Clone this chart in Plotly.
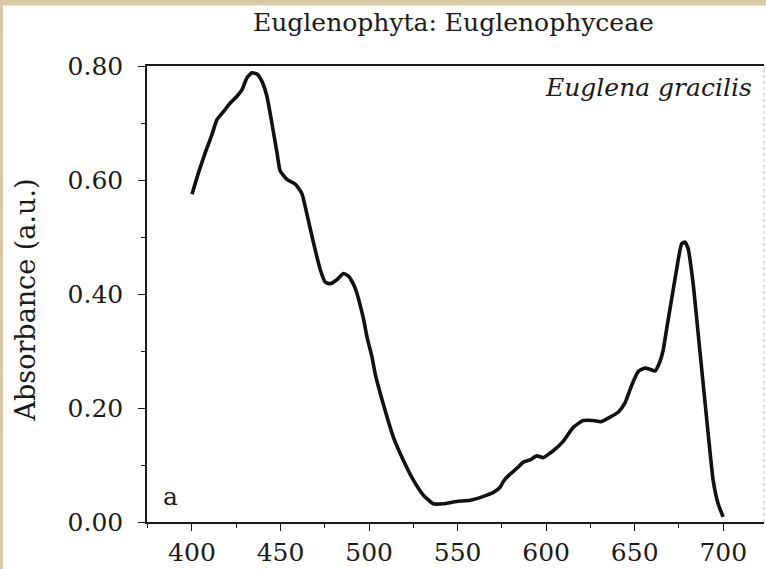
import plotly.graph_objects as go

wavelength = [400, 403.7, 407.5, 411.3, 414.1, 417.8, 421.6, 425.4, 428.2, 431, 433.9, 436.7,
              439.5, 442.3, 445.1, 448, 449.8, 453.6, 458.3, 462.1, 464.9, 468.6, 472.4, 475.2,
              478, 481.8, 485.6, 488.8, 492.2, 496.8, 499, 501.6, 503.6, 508.1, 513.8, 519.4,
              525.1, 530.7, 536.3, 542, 549.5, 557, 564.6, 570.2, 574, 576, 579.6, 583.4,
              587.1, 590.9, 594.7, 598.4, 602.2, 604, 609.7, 615.3, 620.9, 626.6, 631, 636.1,
              640.8, 644.5, 648.3, 652, 655.8, 658.5, 661.5, 664.3, 666.1, 668.1, 670.9, 673.7,
              676.5, 678.4, 680.2, 683.1, 685.9, 688.7, 691.5, 694.3, 697.1, 699.9]
absorbance = [0.575, 0.613, 0.648, 0.680, 0.706, 0.720, 0.735, 0.747, 0.758, 0.779, 0.788, 0.786,
              0.773, 0.747, 0.700, 0.648, 0.616, 0.601, 0.593, 0.576, 0.540, 0.490, 0.443, 0.421,
              0.418, 0.425, 0.436, 0.430, 0.410, 0.357, 0.322, 0.290, 0.258, 0.206, 0.148, 0.108,
              0.073, 0.047, 0.032, 0.032, 0.036, 0.038, 0.045, 0.052, 0.061, 0.072, 0.084, 0.094,
              0.105, 0.109, 0.116, 0.113, 0.121, 0.125, 0.142, 0.166, 0.178, 0.178, 0.176, 0.184,
              0.193, 0.209, 0.240, 0.264, 0.270, 0.268, 0.265, 0.282, 0.302, 0.340, 0.392, 0.444,
              0.488, 0.491, 0.479, 0.415, 0.328, 0.241, 0.154, 0.073, 0.032, 0.009]

x_ticks = [400, 450, 500, 550, 600, 650, 700]
y_ticks = [0.0, 0.2, 0.4, 0.6, 0.8]
y_tick_labels = ["0.00", "0.20", "0.40", "0.60", "0.80"]

title_text = "Euglenophyta: Euglenophyceae"
y_title = "Absorbance (a.u.)"
species = "Euglena gracilis"
panel = "a"

FONT = "DejaVu Serif"
INK = "#1a1a1a"

W, H = 766, 569
ML, MR, MT, MB = 147, 2, 66, 44
PW, PH = W - ML - MR, H - MT - MB
BOTTOM = H - MB  # pixel row of the x axis

def px(xp):
    return (xp - ML) / PW

def py(yp):
    return (BOTTOM - yp) / PH

fig = go.Figure()
fig.add_trace(go.Scatter(x=wavelength, y=absorbance, mode="lines",
                         line=dict(color="#111111", width=3.6, shape="spline", smoothing=0.5),
                         showlegend=False, hoverinfo="skip"))

fig.update_layout(
    width=W, height=H,
    margin=dict(l=ML, r=MR, t=MT, b=MB, pad=0),
    paper_bgcolor="#d8c8a7",
    plot_bgcolor="white",
    font=dict(family=FONT, color=INK),
    shapes=[
        dict(type="rect", xref="paper", yref="paper", x0=px(3), x1=px(770), y0=py(600), y1=py(5),
             fillcolor="white", line=dict(width=0), layer="below"),
        dict(type="line", xref="paper", yref="paper", x0=1, x1=1, y0=0, y1=1,
             line=dict(color="#bbbbbb", width=1, dash="dot")),
    ],
    annotations=[
        dict(text=title_text, xref="paper", yref="paper", x=px(453), y=py(22),
             showarrow=False, font=dict(size=25, family=FONT, color=INK), xanchor="center", yanchor="middle"),
        dict(text=y_title, xref="paper", yref="paper", x=px(25), y=py(302), textangle=-90,
             showarrow=False, font=dict(size=27, family=FONT, color=INK), xanchor="center", yanchor="middle"),
        dict(text="<i>" + species + "</i>", xref="paper", yref="paper", x=px(754), y=py(88),
             showarrow=False, font=dict(size=25, family=FONT, color=INK), xanchor="right", yanchor="middle"),
        dict(text=panel, xref="paper", yref="paper", x=px(170), y=py(499),
             showarrow=False, font=dict(size=25, family=FONT, color=INK), xanchor="center", yanchor="middle"),
    ],
)

fig.update_xaxes(range=[374.6, 723], tickvals=x_ticks, ticks="outside", ticklen=7, tickwidth=1.2,
                 tickcolor=INK, showline=True, linecolor=INK, linewidth=1.5, mirror=True,
                 showgrid=False, zeroline=False, tickfont=dict(size=25, family=FONT, color=INK),
                 minor=dict(dtick=25, tick0=375, ticks="outside", ticklen=4, tickcolor=INK, showgrid=False))
fig.update_yaxes(range=[0, 0.8], tickvals=y_ticks, ticktext=y_tick_labels, ticks="outside", ticklen=7,
                 tickwidth=1.2, tickcolor=INK, showline=True, linecolor=INK, linewidth=1.5,
                 showgrid=False, zeroline=False, tickfont=dict(size=25, family=FONT, color=INK),
                 ticklabelstandoff=10,
                 minor=dict(dtick=0.1, tick0=0, ticks="outside", ticklen=4, tickcolor=INK, showgrid=False))

fig.write_html("out.html", config={"displayModeBar": False},
               post_script="document.body.style.margin='0';document.body.style.overflow='hidden';")
